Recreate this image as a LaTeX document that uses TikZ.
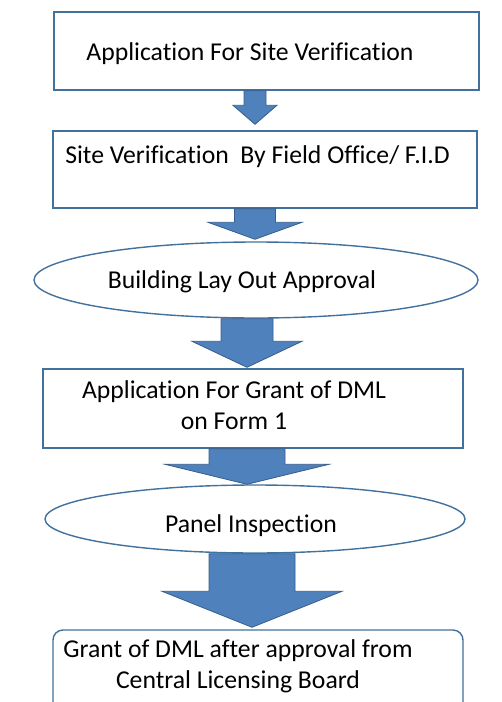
\documentclass[tikz,border=0pt]{standalone}
\usepackage{fontspec}
\setmainfont{Carlito}[Ligatures=CommonOff]
\usetikzlibrary{calc,shapes.geometric}
\definecolor{boxline}{RGB}{65,113,156}
\definecolor{arrowfill}{RGB}{79,129,189}
\definecolor{arrowline}{RGB}{56,93,138}
\tikzset{
  stepbox/.style={draw=boxline, line width=1.4pt, fill=white, inner sep=0pt},
  stepoval/.style={stepbox, ellipse},
  steptext/.style={anchor=base, inner sep=0pt, font=\fontsize{25.7}{31}\selectfont},
  bigarrow/.style={fill=arrowfill, draw=arrowline, line width=0.8pt, line join=miter}
}
% from, to, x of axis, shaft half width, head half width, head length, gap at tip
\newcommand{\blockarrow}[7]{%
  \filldraw[bigarrow] let \p1=(#1.south), \p2=(#2.north) in
    (#3pt-#4pt,\y1) -- (#3pt-#4pt,\y2+#7pt+#6pt) -- (#3pt-#5pt,\y2+#7pt+#6pt)
    -- (#3pt,\y2+#7pt) -- (#3pt+#5pt,\y2+#7pt+#6pt) -- (#3pt+#4pt,\y2+#7pt+#6pt)
    -- (#3pt+#4pt,\y1) -- cycle;}
\begin{document}
\begin{tikzpicture}[x=1pt,y=-1pt]
\useasboundingbox (0,0) rectangle (502,702);

\node[stepbox, minimum width=425pt, minimum height=78pt] (appl) at (266.5,51) {};
\node[stepbox, minimum width=424pt, minimum height=77pt] (siteverif) at (265,169.5) {};
\node[stepoval, minimum width=444pt, minimum height=76pt] (layout) at (256,280) {};
\node[stepbox, minimum width=420pt, minimum height=79pt] (grantappl) at (253,408.5) {};
\node[stepoval, minimum width=420pt, minimum height=68pt] (panel) at (255,519) {};
\node[stepbox, rounded corners=10pt, minimum width=410pt, minimum height=82pt] (grant) at (258,671) {};

\node[steptext] (appl-txt) at (250,60) {Application For Site Verification};
\node[steptext] (siteverif-txt) at (257.5,163) {Site Verification~ By Field Office/ F.I.D};
\node[steptext] (layout-txt) at (242,288) {Building Lay Out Approval};
\node[steptext, align=center] (grantappl-txt) at (234,429.5) {Application For Grant of DML\\on Form 1};
\node[steptext] (panel-txt) at (251,532) {Panel Inspection};
\node[steptext, align=center] (grant-txt) at (238,688) {Grant of DML after approval from\\Central Licensing Board};

\blockarrow{appl}{siteverif}{255}{11}{22}{19}{6}
\blockarrow{siteverif}{layout}{255}{20.5}{47}{17}{2}
\blockarrow{layout}{grantappl}{247}{26}{55}{26}{1}
\blockarrow{grantappl}{panel}{247}{38}{82}{20}{0}
\blockarrow{panel}{grant}{252}{43}{90}{36}{2}
\end{tikzpicture}
\end{document}
